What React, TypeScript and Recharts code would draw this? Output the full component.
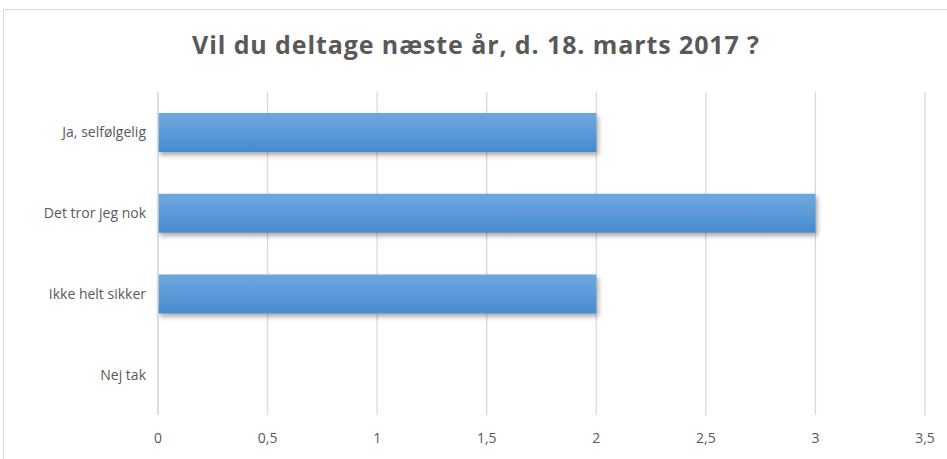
import { BarChart, Bar, XAxis, YAxis, CartesianGrid } from 'recharts';

const categories = ['Ja, selfølgelig', 'Det tror jeg nok', 'Ikke helt sikker', 'Nej tak'];
const answers = [2, 3, 2, 0];
const xTicks = [0, 0.5, 1, 1.5, 2, 2.5, 3, 3.5];
const title = 'Vil du deltage næste år, d. 18. marts 2017 ?';

const data = categories.map((name, i) => ({ name, value: answers[i] }));

const font = '"Open Sans", "Liberation Sans", Arial, sans-serif';
const textColor = '#595959';
const gridColor = '#d9d9d9';

export default function App() {
  return (
    <div style={{ position: 'relative', width: 947, height: 459, background: '#fff', overflow: 'hidden', fontFamily: font }}>
      <style>{`body{margin:0}`}</style>
      <div
        style={{
          position: 'absolute',
          left: 3,
          top: 9,
          width: 960,
          height: 470,
          border: `1px solid ${gridColor}`,
          boxSizing: 'border-box',
        }}
      />
      <div
        style={{
          position: 'absolute',
          left: 0,
          top: 27,
          width: 952,
          textAlign: 'center',
          fontSize: 25,
          letterSpacing: 0.9,
          fontWeight: 'bold',
          color: textColor,
        }}
      >
        {title}
      </div>
      <div style={{ position: 'absolute', left: 0, top: 0 }}>
        <BarChart
          width={947}
          height={459}
          data={data}
          layout="vertical"
          margin={{ top: 92, right: 22, bottom: 0, left: 0 }}
          barSize={39}
        >
          <defs>
            <linearGradient id="barFill" x1="0" y1="0" x2="0" y2="1">
              <stop offset="0%" stopColor="#6fa7dd" />
              <stop offset="50%" stopColor="#5b9bd9" />
              <stop offset="100%" stopColor="#468acd" />
            </linearGradient>
            <filter id="barShadow" x="-5%" y="-20%" width="115%" height="160%">
              <feDropShadow dx="2" dy="3" stdDeviation="2.5" floodColor="#000" floodOpacity="0.35" />
            </filter>
          </defs>
          <CartesianGrid horizontal={false} stroke={gridColor} strokeWidth={1.3} />
          <XAxis
            type="number"
            domain={[0, 3.5]}
            ticks={xTicks}
            tickFormatter={(v: number) => String(v).replace('.', ',')}
            axisLine={false}
            tickLine={false}
            height={44}
            tickMargin={12}
            tick={{ fill: textColor, fontSize: 14, fontFamily: font }}
          />
          <YAxis
            type="category"
            dataKey="name"
            width={158}
            axisLine={{ stroke: gridColor, strokeWidth: 1.3 }}
            tickLine={false}
            tickMargin={6}
            tick={{ fill: textColor, fontSize: 14, fontFamily: font }}
          />
          <Bar dataKey="value" fill="url(#barFill)" filter="url(#barShadow)" isAnimationActive={false} />
        </BarChart>
      </div>
    </div>
  );
}
